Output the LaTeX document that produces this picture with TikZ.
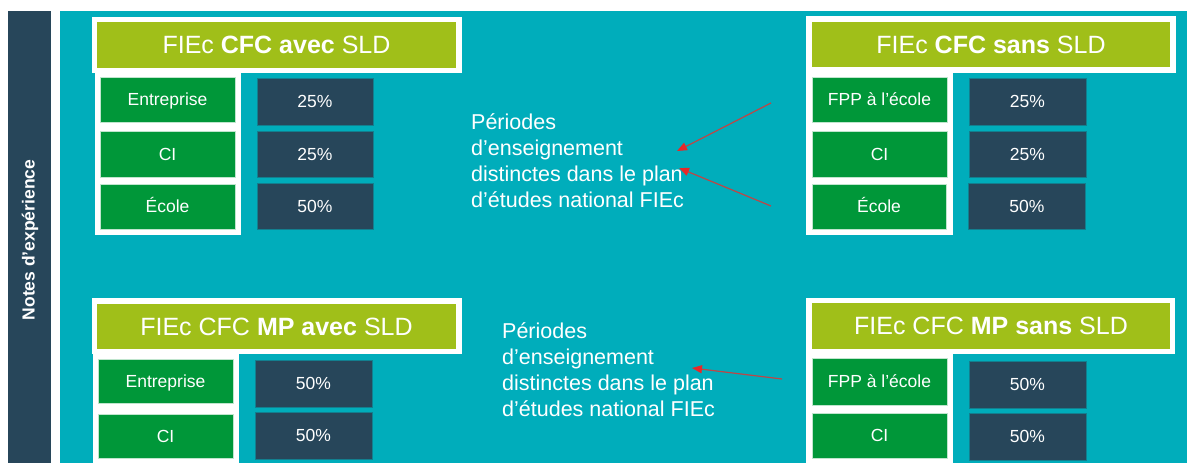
\documentclass[tikz,border=0pt]{standalone}
\usepackage{fontspec}
\setmainfont{Liberation Sans}
\usetikzlibrary{arrows.meta}
\definecolor{teal0}{RGB}{0,173,187}
\definecolor{navy0}{RGB}{39,70,90}
\definecolor{green0}{RGB}{0,151,57}
\definecolor{olive0}{RGB}{160,191,25}
\definecolor{arrline}{RGB}{190,70,70}
\definecolor{arrhead}{RGB}{232,40,40}
\begin{document}
\begin{tikzpicture}[x=1pt,y=-1pt,
 block/.style={draw=none, inner sep=0, outer sep=0},
 whitebox/.style={block, fill=white},
 title/.style={block, fill=olive0, text=white, font=\fontsize{25}{30}\selectfont},
 cat/.style={fill=green0, draw=white!75!green0, line width=0.6pt, text=white, inner sep=0, outer sep=0,
   text height=12.6pt, text depth=0pt,
   minimum width=135, minimum height=45, font=\fontsize{17.5}{21}\selectfont},
 pct/.style={fill=navy0, draw=teal0!55!navy0, line width=0.6pt, text=white, inner sep=0, outer sep=0,
   text height=12.6pt, text depth=0pt,
   minimum width=116, minimum height=46, font=\fontsize{17.5}{21}\selectfont},
 note/.style={text=white, align=left, inner sep=0, anchor=north west, font=\fontsize{21.5}{26}\selectfont},
 ptr/.style={draw=arrline, line width=1.2pt, -{Triangle[length=10pt,width=8pt,color=arrhead]}}
]
\useasboundingbox (0,0) rectangle (1187,463);
\fill[white] (0,0) rectangle (1187,463);
% background panels
\node[block, fill=navy0, minimum width=43, minimum height=452] (bar) at (29.5,237) {};
\node[block, fill=teal0, minimum width=1127, minimum height=452] (panel) at (623.5,237) {};
\node[text=white, rotate=90, font=\fontsize{17.5}{21}\selectfont\bfseries] (side) at (30,240) {Notes d'expérience};

% ---------- Box A ----------
\node[whitebox, minimum width=370, minimum height=56] (Aw) at (277,45) {};
\node[whitebox, minimum width=146, minimum height=162] (Ac) at (168,154) {};
\node[title, minimum width=359, minimum height=46] (At) at (276.5,45) {FIEc \textbf{CFC avec} SLD};
\node[cat] (A1) at (167.5,99.5) {Entreprise};
\node[cat, minimum height=46] (A2) at (167.5,154) {CI};
\node[cat] (A3) at (167.5,206.5) {École};
\node[pct, minimum height=47] (Ap1) at (315,101.5) {25\%};
\node[pct] (Ap2) at (315,154) {25\%};
\node[pct] (Ap3) at (315,206) {50\%};

% ---------- Box B ----------
\node[whitebox, minimum width=370, minimum height=57] (Bw) at (991,44.5) {};
\node[whitebox, minimum width=147, minimum height=162] (Bc) at (879.5,154) {};
\node[title, minimum width=358, minimum height=45] (Bt) at (991,44.5) {FIEc \textbf{CFC sans} SLD};
\node[cat] (B1) at (879.5,99.5) {FPP à l’école};
\node[cat, minimum height=46] (B2) at (879.5,154) {CI};
\node[cat, minimum width=134] (B3) at (879,206.5) {École};
\node[pct, minimum width=117, minimum height=47] (Bp1) at (1027.5,101.5) {25\%};
\node[pct, minimum width=117] (Bp2) at (1027.5,154) {25\%};
\node[pct, minimum width=117] (Bp3) at (1027,206) {50\%};

% ---------- Box C ----------
\node[whitebox, minimum width=370, minimum height=56] (Cw) at (277,326) {};
\node[whitebox, minimum width=146, minimum height=109] (Cc) at (166,408.5) {};
\node[title, minimum width=359, minimum height=45] (Ct) at (276.5,326.5) {FIEc CFC \textbf{MP avec} SLD};
\node[cat, minimum height=44] (C1) at (165.5,381) {Entreprise};
\node[cat, minimum height=44] (C2) at (165.5,436) {CI};
\node[pct, minimum width=117, minimum height=47] (Cp1) at (313.5,383.5) {50\%};
\node[pct, minimum width=117, minimum height=47] (Cp2) at (313.5,435.5) {50\%};

% ---------- Box D ----------
\node[whitebox, minimum width=369, minimum height=56] (Dw) at (990.5,326) {};
\node[whitebox, minimum width=147, minimum height=109] (Dc) at (879.5,408.5) {};
\node[title, minimum width=358, minimum height=46] (Dt) at (991,326) {FIEc CFC \textbf{MP sans} SLD};
\node[cat, minimum height=47] (D1) at (879.5,381.5) {FPP à l’école};
\node[cat] (D2) at (879.5,435.5) {CI};
\node[pct, minimum width=117, minimum height=47] (Dp1) at (1027.5,384.5) {50\%};
\node[pct, minimum width=117, minimum height=47] (Dp2) at (1027.5,436.5) {50\%};

% ---------- Notes ----------
\node[note] (N1) at (471,113) {Périodes\\d’enseignement\\distinctes dans le plan\\d’études national FIEc};
\node[note] (N2) at (502,322) {Périodes\\d’enseignement\\distinctes dans le plan\\d’études national FIEc};

\coordinate (s1) at (771,103);
\coordinate (e1) at (677,151);
\coordinate (s2) at (771,206);
\coordinate (e2) at (679,168);
\coordinate (s3) at (782,379);
\coordinate (e3) at (692,368);
\draw[ptr] (s1) -- (e1);
\draw[ptr] (s2) -- (e2);
\draw[ptr] (s3) -- (e3);
\end{tikzpicture}
\end{document}
